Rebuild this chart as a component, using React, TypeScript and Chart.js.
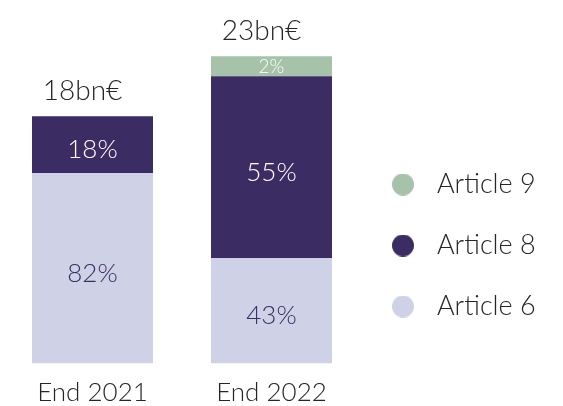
import React, { useEffect, useRef } from "react";
import { Chart, registerables } from "chart.js";

Chart.register(...registerables);

// ---- data (bn€) ----
const categories = ["End 2021", "End 2022"];
const seriesNames = ["Article 6", "Article 8", "Article 9"];
const article6 = [14.25, 7.89];
const article8 = [4.26, 13.61];
const article9 = [0, 1.5];
const article6Labels = ["82%", "43%"];
const article8Labels = ["18%", "55%"];
const article9Labels = ["", "2%"];
const totalLabels = ["18bn€", "23bn€"];

// ---- styles ----
const FONT = "Lato";
const COLORS = ["#cfd2e6", "#3b2c63", "#a6c2a8"];
const LABEL_COLORS = ["#3b2c63", "#ffffff", "#ffffff"];
const TEXT = "#262626";
const W = 563;
const H = 406;

function circleImage(color: string): HTMLCanvasElement {
  const c = document.createElement("canvas");
  c.width = 22;
  c.height = 22;
  const g = c.getContext("2d")!;
  g.fillStyle = color;
  g.beginPath();
  g.arc(11, 11, 11, 0, Math.PI * 2);
  g.fill();
  return c;
}

export default function App() {
  const ref = useRef<HTMLCanvasElement | null>(null);

  useEffect(() => {
    if (!ref.current) return;
    const segLabels = [article6Labels, article8Labels, article9Labels];

    const legendFontSize = 27;
    const legendPad = 21.5;
    const legendBoxW = 41;
    const measure = document.createElement("canvas").getContext("2d")!;
    measure.font = `300 ${legendFontSize}px ${FONT}`;
    const textW = Math.max(...seriesNames.map((s) => measure.measureText(s).width));
    const targetRight = 361;
    const padRight = W - targetRight - (legendPad + legendBoxW + legendFontSize / 2 + textW);

    const labelPlugin = {
      id: "segLabels",
      afterDatasetsDraw(chart: any) {
        const ctx = chart.ctx;
        ctx.save();
        ctx.textAlign = "center";
        ctx.textBaseline = "alphabetic";
        const tops: number[] = categories.map(() => Infinity);
        const xs: number[] = categories.map(() => 0);
        chart.data.datasets.forEach((ds: any, di: number) => {
          const meta = chart.getDatasetMeta(di);
          meta.data.forEach((bar: any, i: number) => {
            const { x, y, base } = bar.getProps(["x", "y", "base"], true);
            xs[i] = x;
            if (ds.data[i] > 0) tops[i] = Math.min(tops[i], y);
            const text = segLabels[di][i];
            if (!text) return;
            const h = Math.abs(base - y);
            const small = h < 30;
            const size = small ? 19 : 26;
            ctx.font = `300 ${size}px ${FONT}`;
            ctx.fillStyle = LABEL_COLORS[di];
            ctx.fillText(text, x, (y + base) / 2 + (small ? 7.3 : 13.5));
          });
        });
        ctx.font = `300 28px ${FONT}`;
        ctx.fillStyle = TEXT;
        totalLabels.forEach((t, i) => {
          ctx.fillText(t, xs[i] - 10, tops[i] - 16);
        });
        ctx.restore();
      },
    };

    const datasets = [article6, article8, article9].map((d, i) => ({
      label: seriesNames[i],
      data: d,
      backgroundColor: COLORS[i],
      borderWidth: 0,
      categoryPercentage: 1,
      barPercentage: 0.676,
    }));

    const chart = new Chart(ref.current, {
      type: "bar",
      data: { labels: categories, datasets },
      plugins: [labelPlugin],
      options: {
        animation: false,
        responsive: false,
        layout: { padding: { left: 3, right: padRight, top: 0, bottom: 0 } },
        plugins: {
          tooltip: { enabled: false },
          legend: {
            position: "right",
            align: "start",
            title: {
              display: true,
              text: "",
              font: { size: 10, lineHeight: 1 },
              padding: { top: 139.5, bottom: 0 },
            },
            labels: {
              usePointStyle: true,
              pointStyleWidth: legendBoxW,
              padding: legendPad,
              color: TEXT,
              font: { family: FONT, size: legendFontSize, weight: "300", lineHeight: 39.5 / legendFontSize },
              generateLabels: () =>
                [2, 1, 0].map((i) => ({
                  text: [seriesNames[i]],
                  fillStyle: COLORS[i],
                  strokeStyle: COLORS[i],
                  lineWidth: 0,
                  pointStyle: circleImage(COLORS[i]),
                  hidden: false,
                  datasetIndex: i,
                  fontColor: TEXT,
                })),
            },
          },
        },
        scales: {
          x: {
            stacked: true,
            grid: { display: false, drawTicks: true, tickLength: 16.5 },
            border: { display: false },
            ticks: {
              color: TEXT,
              padding: 0,
              font: { family: FONT, size: 26, weight: "300", lineHeight: 1 },
            },
          },
          y: {
            stacked: true,
            display: false,
            min: 0,
            max: 27.2,
          },
        },
      },
    } as any);

    // fine-tune so the plot area ends where the legend starts in the reference
    const delta = chart.chartArea.right - targetRight;
    if (Math.abs(delta) > 0.25) {
      (chart.options as any).layout.padding.right = padRight + delta;
      chart.update();
    }
    return () => chart.destroy();
  }, []);

  return (
    <div style={{ position: "absolute", left: 0, top: 0, width: W, height: H, background: "#fff" }}>
      <canvas ref={ref} width={W} height={H} style={{ display: "block" }} />
    </div>
  );
}
